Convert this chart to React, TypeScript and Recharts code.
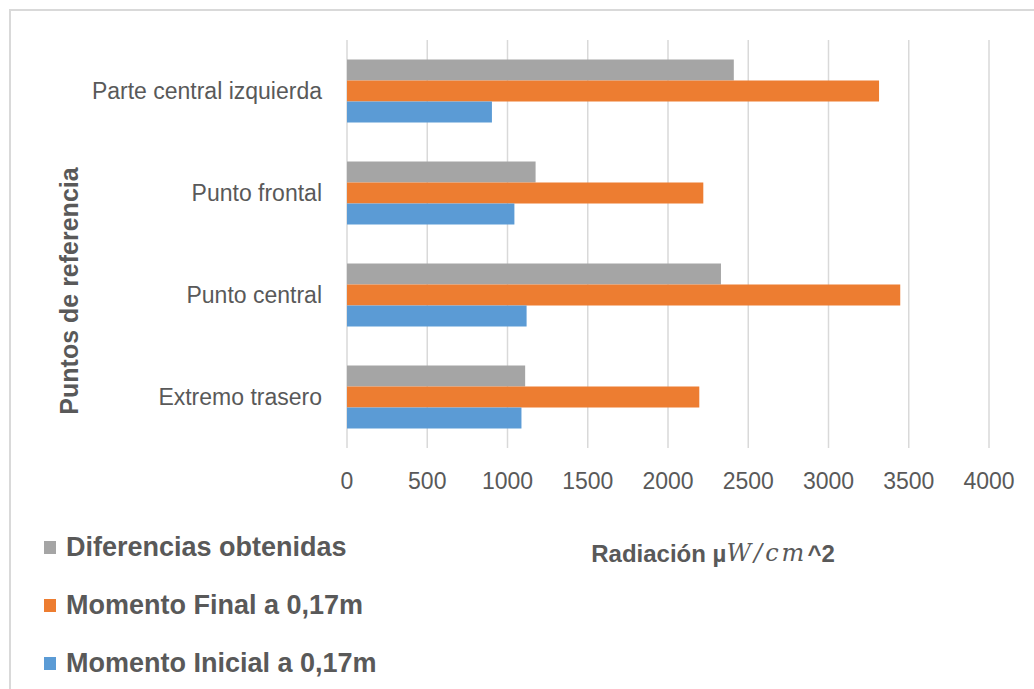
import React from "react";
import { BarChart, Bar, XAxis, YAxis, CartesianGrid, Legend } from "recharts";

// Puntos medidos y radiación (µW/cm^2) en cada momento
const categorias = ["Parte central izquierda", "Punto frontal", "Punto central", "Extremo trasero"];
const diferencias = [2410, 1175, 2330, 1110];
const momentoFinal = [3315, 2220, 3447, 2195];
const momentoInicial = [903, 1043, 1119, 1087];
const radiacionTicks = [0, 500, 1000, 1500, 2000, 2500, 3000, 3500, 4000];

const data = categorias.map((nombre, i) => ({
  nombre,
  diferencias: diferencias[i],
  final: momentoFinal[i],
  inicial: momentoInicial[i],
}));

const SANS = "'Liberation Sans', Arial, sans-serif";
const TEXT = "#595959";

const YTitle = (props: any) => {
  const vb = props.viewBox ?? { x: 0, y: 40, width: 347, height: 408 };
  const cx = vb.x + 69;
  const cy = vb.y + vb.height / 2 + 47;
  return (
    <text
      x={cx}
      y={cy}
      transform={`rotate(-90, ${cx}, ${cy})`}
      textAnchor="middle"
      dominantBaseline="central"
      fontFamily={SANS}
      fontWeight="bold"
      fontSize={25}
      fill={TEXT}
    >
      Puntos de referencia
    </text>
  );
};

const XTitle = (props: any) => {
  const vb = props.viewBox ?? { x: 347, y: 448, width: 642, height: 60 };
  const cx = vb.x + vb.width / 2 + 45;
  const cy = vb.y + 105;
  return (
    <text x={cx} y={cy} textAnchor="middle" dominantBaseline="central" fontSize={24} fill={TEXT}>
      <tspan fontFamily={SANS} fontWeight="bold">Radiación µ</tspan>
      <tspan fontFamily="'DejaVu Serif', serif" fontStyle="italic" letterSpacing={3}>W/cm</tspan>
      <tspan fontFamily={SANS} fontWeight="bold">^2</tspan>
    </text>
  );
};

const LegendList = ({ payload }: any) => (
  <div>
    {(payload ?? []).map((entry: any) => (
      <div key={entry.value} style={{ display: "flex", alignItems: "center", height: 58 }}>
        <span style={{ width: 12, height: 13, background: entry.color, marginRight: 10, display: "inline-block" }} />
        <span style={{ fontFamily: SANS, fontWeight: 700, fontSize: 27, color: TEXT, whiteSpace: "nowrap" }}>
          {entry.value}
        </span>
      </div>
    ))}
  </div>
);

export default function App() {
  return (
    <div style={{ position: "absolute", left: 0, top: 0, width: 1034, height: 689, overflow: "hidden", background: "#fff" }}>
      <div
        style={{
          position: "absolute",
          left: 9,
          top: 9,
          width: 1100,
          height: 720,
          border: "2px solid #d9d9d9",
        }}
      />
      <BarChart
        width={1034}
        height={689}
        data={data}
        layout="vertical"
        margin={{ top: 40, right: 45, left: 0, bottom: 181 }}
        barCategoryGap="19%"
        barGap={0}
      >
        <CartesianGrid horizontal={false} stroke="#d9d9d9" strokeWidth={1.5} />
        <XAxis
          type="number"
          domain={[0, 4000]}
          ticks={radiacionTicks}
          interval={0}
          axisLine={false}
          tickLine={false}
          tickSize={0}
          tickMargin={25}
          height={60}
          tick={{ fontFamily: SANS, fontSize: 23, fill: TEXT }}
          label={(p: any) => <XTitle {...p} />}
        />
        <YAxis
          type="category"
          dataKey="nombre"
          width={347}
          axisLine={false}
          tickLine={false}
          tickSize={0}
          tickMargin={25}
          tick={{ fontFamily: SANS, fontSize: 23, fill: TEXT }}
          label={(p: any) => <YTitle {...p} />}
        />
        <Legend
          layout="vertical"
          align="center"
          verticalAlign="middle"
          content={<LegendList />}
          wrapperStyle={{ left: 44, top: 518, width: 460 }}
        />
        <Bar dataKey="diferencias" name="Diferencias obtenidas" fill="#a5a5a5" isAnimationActive={false} />
        <Bar dataKey="final" name="Momento Final a 0,17m" fill="#ed7d31" isAnimationActive={false} />
        <Bar dataKey="inicial" name="Momento Inicial a 0,17m" fill="#5b9bd5" isAnimationActive={false} />
      </BarChart>
    </div>
  );
}
